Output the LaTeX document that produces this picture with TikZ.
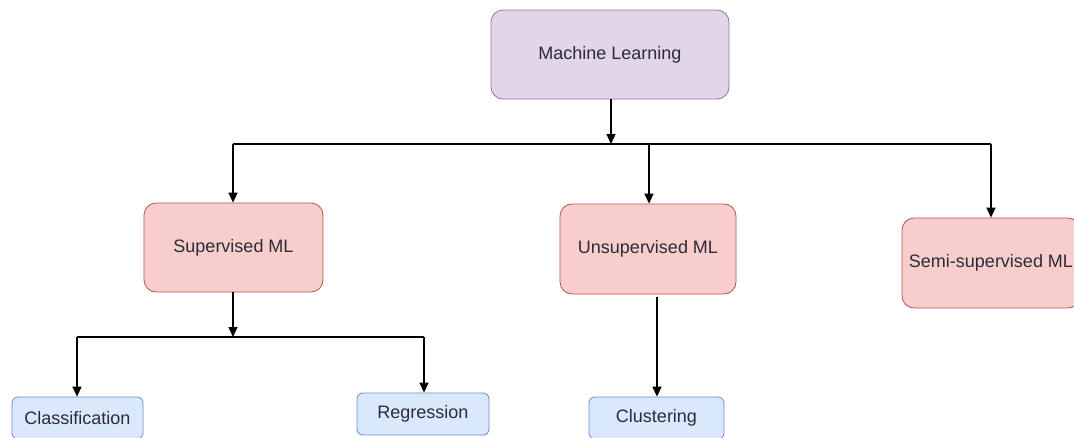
\documentclass[tikz,border=0pt]{standalone}
\usepackage{fontspec}
\setmainfont{Liberation Sans}
\usetikzlibrary{arrows.meta}
\definecolor{purpfill}{HTML}{E1D5E7}
\definecolor{purpline}{HTML}{9673A6}
\definecolor{redfill}{HTML}{F8CECC}
\definecolor{redline}{HTML}{B85450}
\definecolor{bluefill}{HTML}{DAE8FC}
\definecolor{blueline}{HTML}{6C8EBF}
\definecolor{txt}{HTML}{2B2B3A}
\tikzset{
  box/.style={draw, line width=0.8pt, inner sep=0pt, font=\fontsize{18}{20}\selectfont, text=txt},
  rootbox/.style={box, fill=purpfill, draw=purpline, rounded corners=12pt},
  midbox/.style={box, fill=redfill, draw=redline, rounded corners=12pt},
  leafbox/.style={box, fill=bluefill, draw=blueline, rounded corners=6pt},
  link/.style={line width=1.4pt, draw=black},
  arr/.style={link, -{Triangle[length=10pt,width=9pt]}}
}
\begin{document}
\begin{tikzpicture}[x=1pt,y=-1pt]
\useasboundingbox (0,0) rectangle (1074,437);
\fill[white] (0,0) rectangle (1074,437);

% boxes
\node[rootbox, minimum width=238pt, minimum height=89pt] (ml) at (610,54.5) {Machine Learning};
\node[midbox, minimum width=179pt, minimum height=89pt] (sup) at (233.5,247.5) {Supervised ML};
\node[midbox, minimum width=176pt, minimum height=90pt] (uns) at (648,249) {Unsupervised ML};
\node[midbox, minimum width=178pt, minimum height=90pt] (semi) at (991,263) {Semi-supervised ML};
\node[leafbox, minimum width=131pt, minimum height=42pt] (cls) at (77.5,418) {Classification};
\node[leafbox, minimum width=132pt, minimum height=42pt] (reg) at (423,414) {Regression};
\node[leafbox, minimum width=135pt, minimum height=42pt] (clu) at (656.5,418) {Clustering};

% junction points
\coordinate (busL) at (233,144);
\coordinate (busM) at (611,144);
\coordinate (busU) at (649,144);
\coordinate (busR) at (991,144);
\coordinate (subL) at (77,337);
\coordinate (subM) at (233,337);
\coordinate (subR) at (424,337);
\coordinate (uStart) at (657,297);

% top level
\draw[arr] (ml.south -| busM) -- (busM);
\draw[link] (busL) -- (busR);
\draw[arr] (busL) -- (sup.north -| busL);
\draw[arr] (busU) -- (uns.north -| busU);
\draw[arr] (busR) -- (semi.north -| busR);

% supervised branch
\draw[arr] (sup.south -| subM) -- (subM);
\draw[link] (subL) -- (subR);
\draw[arr] (subL) -- (cls.north -| subL);
\draw[arr] (subR) -- (reg.north -| subR);

% unsupervised branch
\draw[arr] (uStart) -- (clu.north -| uStart);
\end{tikzpicture}
\end{document}
